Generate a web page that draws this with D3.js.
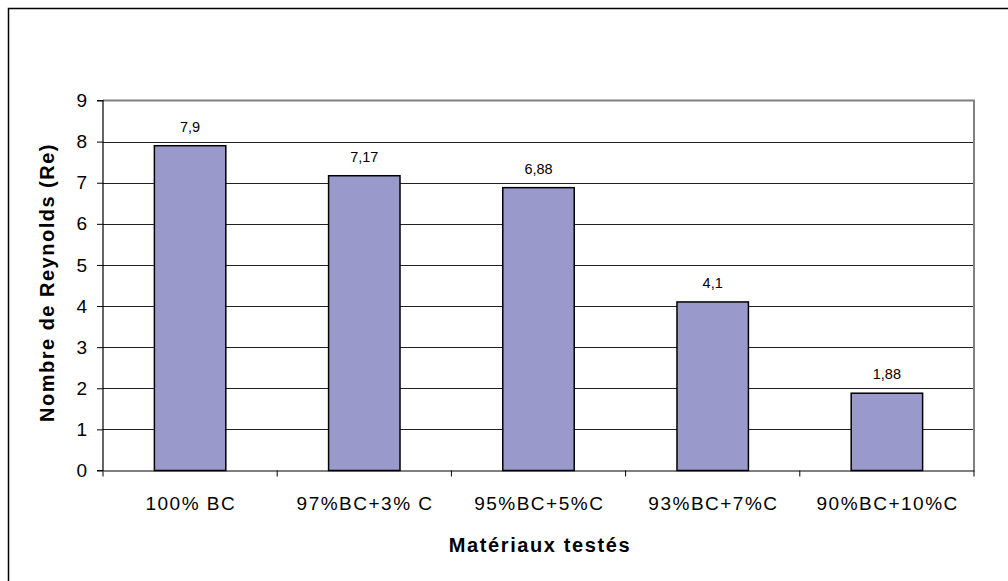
<!DOCTYPE html>
<html>
<head>
<meta charset="utf-8">
<script src="https://cdn.jsdelivr.net/npm/d3@7"></script>
<style>
  html, body { margin: 0; padding: 0; background: #fff; }
  svg { display: block; }
</style>
</head>
<body>
<svg id="chart" width="1008" height="581"></svg>
<script>
// Reynolds number by tested material
const categories = ["100% BC", "97%BC+3% C", "95%BC+5%C", "93%BC+7%C", "90%BC+10%C"];
const values = [7.9, 7.17, 6.88, 4.1, 1.88];
const valueLabels = ["7,9", "7,17", "6,88", "4,1", "1,88"];
const yTicks = [0, 1, 2, 3, 4, 5, 6, 7, 8, 9];

const svg = d3.select("#chart");
const font = "'Liberation Sans', Arial, sans-serif";

// outer chart frame (only top and left edges show within the view)
svg.append("rect")
  .attr("x", 8.5).attr("y", 8.5)
  .attr("width", 1040).attr("height", 620)
  .attr("fill", "#fff").attr("stroke", "#000").attr("stroke-width", 1.5);

const plot = { left: 103, right: 974, top: 100.5, bottom: 470.5 };

const x = d3.scaleBand()
  .domain(categories)
  .range([plot.left, plot.right])
  .paddingInner(0.59)
  .paddingOuter(0.295);

const xCat = d3.scaleBand().domain(categories).range([plot.left, plot.right]);

const y = d3.scaleLinear().domain([0, 9]).range([plot.bottom, plot.top]);

// gridlines
svg.append("g")
  .selectAll("line")
  .data(yTicks.filter(d => d > 0 && d < 9))
  .join("line")
  .attr("x1", plot.left).attr("x2", plot.right)
  .attr("y1", d => Math.round(y(d)) + 0.5).attr("y2", d => Math.round(y(d)) + 0.5)
  .attr("stroke", "#222").attr("stroke-width", 1);

// plot area border (top and right)
svg.append("path")
  .attr("d", `M${plot.left},${plot.top}H${plot.right}V${plot.bottom}`)
  .attr("fill", "none").attr("stroke", "#808080").attr("stroke-width", 2);

// bars
svg.append("g")
  .selectAll("rect")
  .data(values)
  .join("rect")
  .attr("x", (d, i) => x(categories[i]))
  .attr("width", x.bandwidth())
  .attr("y", d => y(d))
  .attr("height", d => y(0) - y(d))
  .attr("fill", "#9999cc")
  .attr("stroke", "#000").attr("stroke-width", 1.5);

// value labels
svg.append("g")
  .selectAll("text")
  .data(values)
  .join("text")
  .attr("x", (d, i) => x(categories[i]) + x.bandwidth() / 2)
  .attr("y", d => y(d) - 14)
  .attr("text-anchor", "middle")
  .attr("font-family", font).attr("font-size", 14.5)
  .attr("fill", "#000")
  .text((d, i) => valueLabels[i]);

// y axis
const yAxis = svg.append("g")
  .attr("transform", `translate(${plot.left},0)`)
  .call(d3.axisLeft(y).tickValues(yTicks).tickSize(6).tickPadding(10).tickFormat(d3.format("d")));
yAxis.select(".domain").attr("stroke", "#000").attr("stroke-width", 1.2).attr("d", `M-6,${plot.bottom}H0V${plot.top}H-6`);
yAxis.selectAll(".tick line").attr("stroke", "#000");
yAxis.selectAll(".tick text")
  .attr("font-family", font).attr("font-size", 19).attr("fill", "#000");

// x axis
const xAxis = svg.append("g")
  .attr("transform", `translate(0,${plot.bottom})`)
  .call(d3.axisBottom(xCat).tickSize(0).tickPadding(26));
xAxis.select(".domain").attr("stroke", "#000").attr("stroke-width", 1.2);
xAxis.selectAll(".tick text")
  .attr("font-family", font).attr("font-size", 19).attr("letter-spacing", 1.5)
  .attr("dx", 0.75).attr("fill", "#000");

// x boundary ticks between categories
svg.append("g")
  .selectAll("line")
  .data(d3.range(categories.length + 1))
  .join("line")
  .attr("x1", i => plot.left + i * xCat.step())
  .attr("x2", i => plot.left + i * xCat.step())
  .attr("y1", plot.bottom).attr("y2", plot.bottom + 6)
  .attr("stroke", "#000").attr("stroke-width", 1);

// axis titles
svg.append("text")
  .attr("x", 540).attr("y", 552)
  .attr("text-anchor", "middle")
  .attr("font-family", font).attr("font-size", 20).attr("font-weight", "bold")
  .attr("letter-spacing", 1.6)
  .text("Matériaux testés");

svg.append("text")
  .attr("transform", `translate(54,${(plot.top + plot.bottom) / 2 - 3}) rotate(-90)`)
  .attr("text-anchor", "middle")
  .attr("font-family", font).attr("font-size", 20).attr("font-weight", "bold")
  .attr("letter-spacing", 1.5)
  .text("Nombre de Reynolds (Re)");
</script>
</body>
</html>
